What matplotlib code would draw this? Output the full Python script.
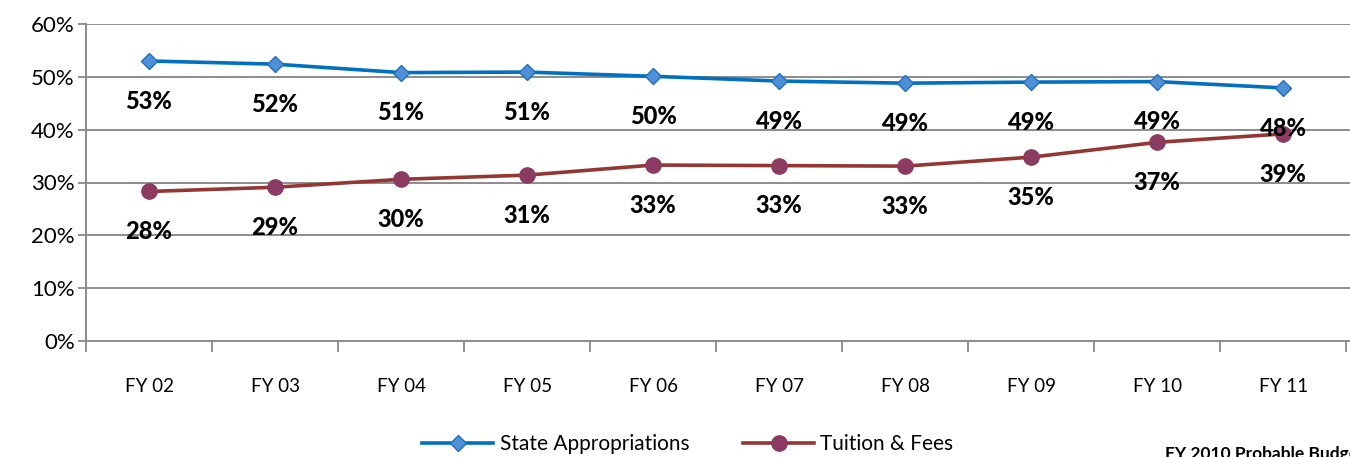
import matplotlib
matplotlib.use("Agg")
import matplotlib.pyplot as plt
from matplotlib.ticker import FixedLocator, PercentFormatter

categories = ["FY 02", "FY 03", "FY 04", "FY 05", "FY 06", "FY 07", "FY 08", "FY 09", "FY 10", "FY 11"]
state = [53.0, 52.4, 50.8, 50.9, 50.1, 49.2, 48.8, 49.0, 49.1, 47.9]
tuition = [28.3, 29.1, 30.6, 31.4, 33.3, 33.2, 33.1, 34.8, 37.6, 39.2]
state_labels = ["53%", "52%", "51%", "51%", "50%", "49%", "49%", "49%", "49%", "48%"]
tuition_labels = ["28%", "29%", "30%", "31%", "33%", "33%", "33%", "35%", "37%", "39%"]
yticks = [0, 10, 20, 30, 40, 50, 60]

plt.rcParams['font.family'] = ['Lato', 'DejaVu Sans']

fig = plt.figure(figsize=(13.5, 4.57), dpi=100)
ax = fig.add_axes([86/1350, 1-341/457, 1264/1350, 317/457])

x = list(range(len(categories)))
ax.plot(x, state, color="#0070C0", lw=2.6, marker="D", ms=8,
        markerfacecolor="#4F8FD6", markeredgecolor="#1F6FC0", markeredgewidth=1,
        label="State Appropriations", zorder=3)
ax.plot(x, tuition, color="#943634", lw=2.6, marker="o", ms=11,
        markerfacecolor="#8B3A62", markeredgecolor="#8B3A62",
        label="Tuition & Fees", zorder=3)

for xi, v, lab in zip(x, state, state_labels):
    ax.annotate(lab, (xi, v), xytext=(0, -29), textcoords="offset points",
                ha="center", va="center", fontsize=17, fontweight="black", zorder=4)
for xi, v, lab in zip(x, tuition, tuition_labels):
    ax.annotate(lab, (xi, v), xytext=(0, -29), textcoords="offset points",
                ha="center", va="center", fontsize=17, fontweight="black", zorder=4)

ax.set_xlim(-0.5, len(categories) - 0.5 + 0.03)
ax.set_ylim(0, 60)
ax.yaxis.set_major_locator(FixedLocator(yticks))
ax.yaxis.set_major_formatter(PercentFormatter(decimals=0))
ax.set_xticks(x)
ax.set_xticklabels(categories, fontsize=13.5)
ax.xaxis.set_minor_locator(FixedLocator([i - 0.5 for i in range(len(categories) + 1)]))
ax.tick_params(axis="x", which="major", length=0, pad=27)
ax.tick_params(axis="x", which="minor", length=8, color="#888888", width=1.3, direction="out")
ax.tick_params(axis="y", length=6, color="#888888", width=1.3, labelsize=16, pad=2)
ax.grid(axis="y", color="#8c8c8c", lw=1.4)
ax.set_axisbelow(True)
for s in ["top", "right"]:
    ax.spines[s].set_visible(False)
for s in ["left", "bottom"]:
    ax.spines[s].set_color("#8c8c8c")
    ax.spines[s].set_linewidth(1.4)

fig.legend(loc="center", bbox_to_anchor=(688/1350, 1-444/457), ncol=2, frameon=False,
           fontsize=15, handlelength=3.4, columnspacing=2.6, handletextpad=0.3)
fig.text(1165/1350, 1-454/457, "FY 2010 Probable Budget", fontsize=12.5, fontweight="bold",
         ha="left", va="center")

fig.savefig("out.png", dpi=100)
